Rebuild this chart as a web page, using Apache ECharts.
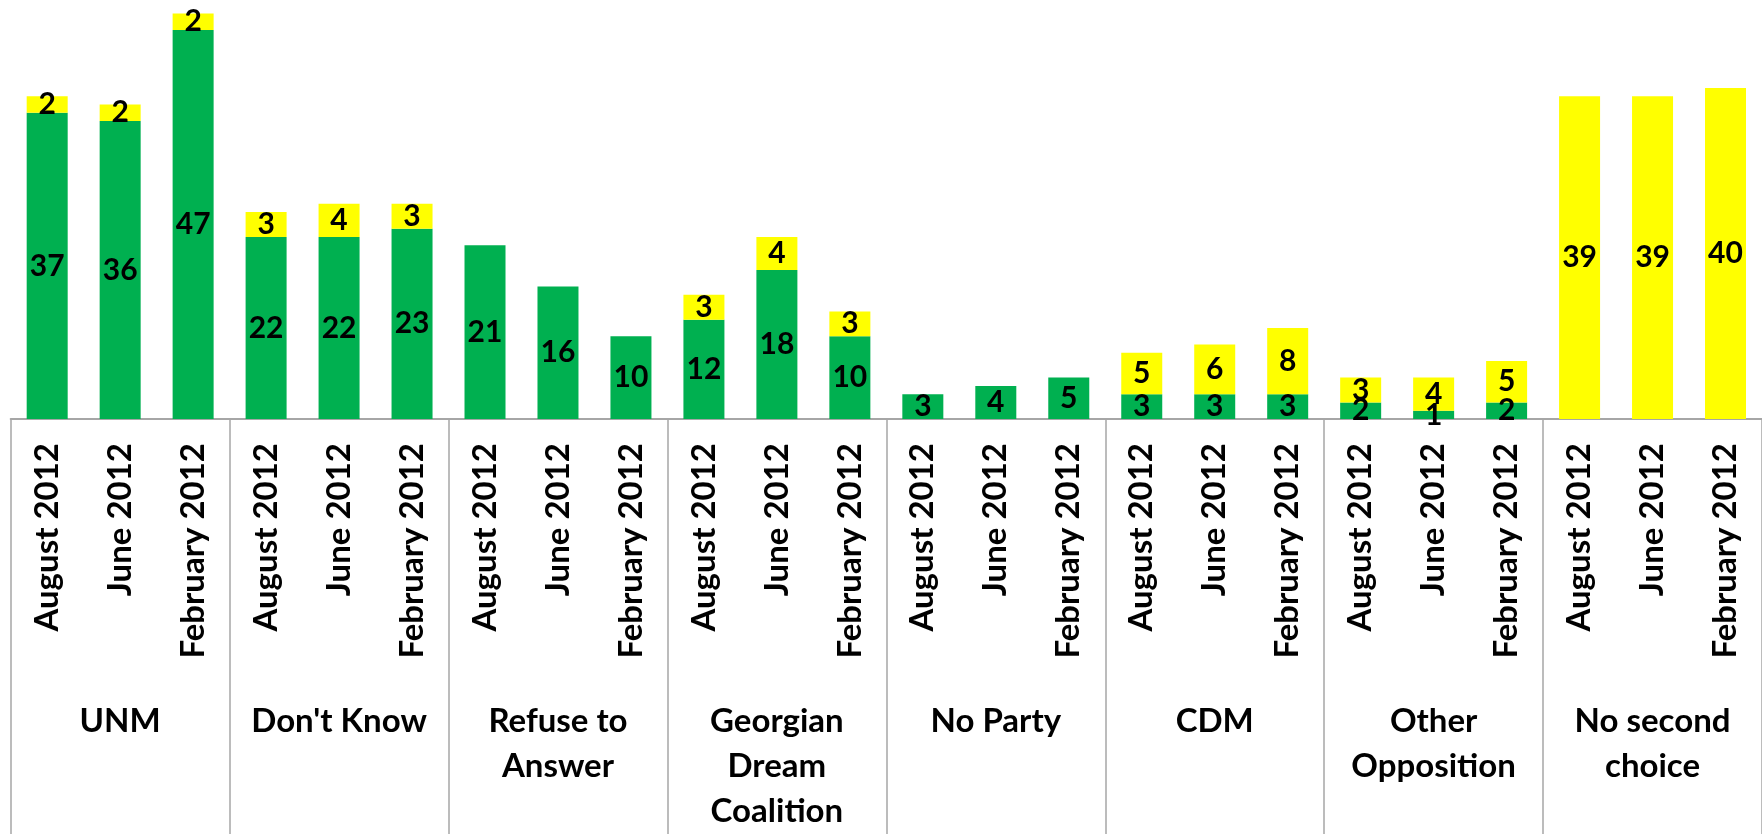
<!DOCTYPE html>
<html>
<head>
<meta charset="utf-8">
<script src="https://cdn.jsdelivr.net/npm/echarts@6/dist/echarts.min.js"></script>
<style>
html,body{margin:0;padding:0;background:#fff;}
#chart{width:1762px;height:834px;}
</style>
</head>
<body>
<div id="chart"></div>
<script>
const groups = ["UNM", "Don't Know", "Refuse to\nAnswer", "Georgian\nDream\nCoalition", "No Party", "CDM", "Other\nOpposition", "No second\nchoice"];
const periods = ["August 2012", "June 2012", "February 2012"];
const firstChoice = [37, 36, 47, 22, 22, 23, 21, 16, 10, 12, 18, 10, 3, 4, 5, 3, 3, 3, 2, 1, 2, null, null, null];
const secondChoice = [2, 2, 2, 3, 4, 3, null, null, null, 3, 4, 3, null, null, null, 5, 6, 8, 3, 4, 5, 39, 39, 40];

const categories = [];
groups.forEach(function (g) { periods.forEach(function (p) { categories.push(p); }); });

const chart = echarts.init(document.getElementById('chart'), null, {renderer: 'canvas'});
const labelStyle = {
  show: true, position: 'inside', color: '#000',
  fontFamily: 'Lato', fontWeight: 'bold', fontSize: 30
};
chart.setOption({
  animation: false,
  backgroundColor: '#fff',
  grid: {left: 10.7, top: 5.2, width: 1764, height: 422.5, containLabel: false},
  xAxis: [
    {
      type: 'category', data: categories, position: 'bottom',
      axisLine: {show: true, lineStyle: {color: '#A6A6A6', width: 2}},
      axisTick: {show: false},
      axisLabel: {
        interval: 0, rotate: 90, margin: 24, color: '#000',
        fontFamily: 'Lato', fontWeight: 'bold', fontSize: 33
      }
    },
    {
      type: 'category', data: groups, position: 'bottom',
      axisLine: {show: false},
      axisTick: {show: true, length: 420, lineStyle: {color: '#A6A6A6', width: 1.5}},
      axisLabel: {
        interval: 0, margin: 280, color: '#000', lineHeight: 45,
        fontFamily: 'Lato', fontWeight: 'bold', fontSize: 33, hideOverlap: false
      }
    }
  ],
  yAxis: {type: 'value', min: 0, max: 50, show: false, splitLine: {show: false}},
  series: [
    {
      name: 'First choice', type: 'bar', stack: 'total', xAxisIndex: 0,
      barWidth: 41, data: firstChoice,
      itemStyle: {color: '#00B050'}, label: labelStyle
    },
    {
      name: 'Second choice', type: 'bar', stack: 'total', xAxisIndex: 0,
      barWidth: 41, data: secondChoice,
      itemStyle: {color: '#FFFF00'}, label: labelStyle
    }
  ]
});
</script>
</body>
</html>
